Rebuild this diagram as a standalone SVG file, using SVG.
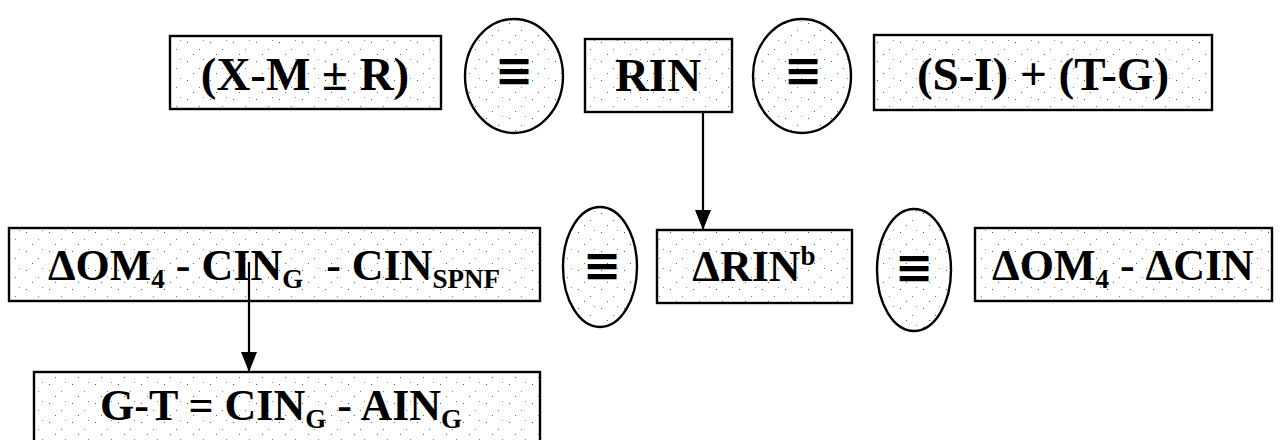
<svg xmlns="http://www.w3.org/2000/svg" width="1282" height="440" viewBox="0 0 1282 440">
  <defs>
    <pattern id="speck" width="23" height="19" patternUnits="userSpaceOnUse">
      <rect width="23" height="19" fill="#ffffff"/>
      <rect x="3" y="4" width="1" height="1" fill="#555"/>
      <rect x="15" y="11" width="1" height="1" fill="#777"/>
      <rect x="9" y="16" width="1" height="1" fill="#666"/>
      <rect x="19" y="2" width="1" height="1" fill="#888"/>
    </pattern>
    <marker id="arrow" markerWidth="20" markerHeight="16" refX="20" refY="8" orient="auto" markerUnits="userSpaceOnUse" viewBox="0 0 20 16">
      <path d="M0,0 L20,8 L0,16 Z" fill="#000"/>
    </marker>
  </defs>
  <style>
    .box { fill: url(#speck); stroke: #000; stroke-width: 2.4; }
    .ell { fill: url(#speck); stroke: #000; stroke-width: 2.4; }
    .t { font-family: "Liberation Serif", "Times New Roman", serif; font-weight: bold; fill: #000; }
    .big { font-size: 47px; }
    .mid { font-size: 44px; }
    .sub { font-size: 27px; }
    .eq { font-family: "DejaVu Sans", sans-serif; font-weight: bold; font-size: 46px; fill: #000; text-anchor: middle; }
    .conn { stroke: #000; stroke-width: 2.2; fill: none; }
  </style>
  <rect width="1282" height="440" fill="#ffffff"/>

  <g id="node-xmr">
    <rect class="box" x="170" y="36" width="271" height="73"/>
    <text class="t big" x="305" y="90" text-anchor="middle">(X-M ± R)</text>
  </g>
  <g id="node-eq1">
    <ellipse class="ell" cx="514" cy="76" rx="49" ry="57"/>
    <text class="eq" x="514" y="86">≡</text>
  </g>
  <g id="node-rin">
    <rect class="box" x="585" y="39" width="147" height="73"/>
    <text class="t big" x="658" y="91" text-anchor="middle">RIN</text>
  </g>
  <g id="node-eq2">
    <ellipse class="ell" cx="802" cy="76" rx="49" ry="57"/>
    <text class="eq" x="803" y="86">≡</text>
  </g>
  <g id="node-sitg">
    <rect class="box" x="874" y="35" width="338" height="75"/>
    <text class="t big" x="1043" y="90" text-anchor="middle">(S-I) + (T-G)</text>
  </g>

  <g id="node-om4cin">
    <rect class="box" x="9" y="228" width="531" height="73"/>
    <text class="t mid" x="48" y="280">ΔOM<tspan class="sub" dy="8">4</tspan><tspan dy="-8"> - CIN</tspan><tspan class="sub" dy="8">G</tspan><tspan dx="12" dy="-8"> - CIN</tspan><tspan class="sub" dy="8">SPNF</tspan></text>
  </g>
  <g id="node-eq3">
    <ellipse class="ell" cx="600" cy="267" rx="37" ry="60"/>
    <text class="eq" x="602" y="281">≡</text>
  </g>
  <g id="node-drin">
    <rect class="box" x="657" y="230" width="195" height="73"/>
    <text class="t mid" x="754" y="281" text-anchor="middle">ΔRIN<tspan class="sub" dy="-16">b</tspan></text>
  </g>
  <g id="node-eq4">
    <ellipse class="ell" cx="914" cy="270" rx="37" ry="61"/>
    <text class="eq" x="914" y="283">≡</text>
  </g>
  <g id="node-dom4dcin">
    <rect class="box" x="975" y="228" width="297" height="73"/>
    <text class="t mid" x="1123" y="280" text-anchor="middle">ΔOM<tspan class="sub" dy="8">4</tspan><tspan dy="-8"> - ΔCIN</tspan></text>
  </g>

  <g id="node-gt">
    <rect class="box" x="34" y="372" width="506" height="80"/>
    <text class="t mid" x="100" y="420">G-T = CIN<tspan class="sub" dy="8">G</tspan><tspan dy="-8"> - AIN</tspan><tspan class="sub" dy="8">G</tspan></text>
  </g>

  <g id="connectors">
    <line class="conn" x1="703" y1="112" x2="703" y2="230" marker-end="url(#arrow)"/>
    <line class="conn" x1="249" y1="262" x2="249" y2="372" marker-end="url(#arrow)"/>
  </g>
</svg>
